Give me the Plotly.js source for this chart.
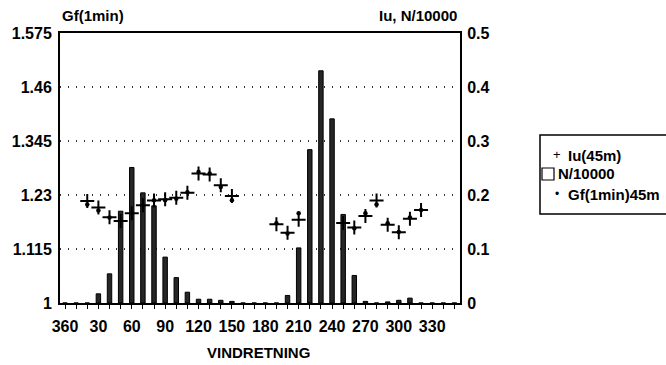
<!DOCTYPE html>
<html>
<head>
<meta charset="utf-8">
<script src="https://cdn.plot.ly/plotly-3.0.1.min.js"></script>
<style>html,body{margin:0;padding:0;background:#fff;}#chart{width:666px;height:365px;}</style>
</head>
<body>
<div id="chart"></div>
<script>
// Wind directions (categories)
var directions = ['360','10','20','30','40','50','60','70','80','90','100','110','120','130','140','150','160','170',
                  '180','190','200','210','220','230','240','250','260','270','280','290','300','310','320','330','340','350'];
// N/10000 (right axis)
var nValues = [0,0,0,0.017,0.054,0.170,0.251,0.204,0.180,0.085,0.047,0.020,0.007,0.007,0.005,0.003,0,0,
               0,0,0.014,0.102,0.284,0.430,0.341,0.164,0.051,0.003,0,0.002,0.005,0.009,0,0,0,0];
// Iu(45m) (right axis)
var iuValues = [null,null,0.189,0.177,0.159,0.152,0.166,0.181,0.190,0.192,0.195,0.204,0.240,0.238,0.218,0.198,null,null,
                null,0.146,0.130,0.154,null,null,null,0.148,0.140,0.161,0.190,0.145,0.131,0.156,0.172,null,null,null];
// Gf(1min)45m (left axis)
var gfValues = [null,null,1.210,1.197,1.182,1.178,1.191,1.206,1.219,1.219,1.222,1.236,1.279,1.276,1.247,1.219,null,null,
                null,1.170,1.148,1.191,null,null,null,1.172,1.159,1.191,1.210,1.170,1.151,1.182,1.198,null,null,null];
// Tick labels
var xTickText = directions.map(function(d, i){ return (i % 3 === 0) ? d : ''; });
var leftTicks = [1, 1.115, 1.23, 1.345, 1.46, 1.575];
var leftTickText = ['1','1.115','1.23','1.345','1.46','1.575'];
var rightTicks = [0, 0.1, 0.2, 0.3, 0.4, 0.5];
var rightTickText = ['0','0.1','0.2','0.3','0.4','0.5'];

var FONT = 'Liberation Sans, Arial, Helvetica, sans-serif';
var tickFont = {family: FONT, size: 16, color: '#000', weight: 'bold'};
var textFont = {family: FONT, size: 15, color: '#000', weight: 'bold'};

var traces = [
  {type: 'scatter', mode: 'markers', name: 'Gf(1min)45m', x: directions, y: gfValues, yaxis: 'y',
   marker: {symbol: 'circle', size: 4.5, color: '#000'}, showlegend: false, cliponaxis: false},
  {type: 'bar', name: 'N/10000', x: directions, y: nValues, yaxis: 'y2', width: 0.4,
   marker: {color: '#262626', line: {color: '#000', width: 1}}, showlegend: false},
  {type: 'scatter', mode: 'markers', name: 'Iu(45m)', x: directions, y: iuValues, yaxis: 'y2',
   marker: {symbol: 'cross-thin', size: 10, color: '#000', line: {color: '#000', width: 2}}, showlegend: false}
];

function px(x){ return (x - 60) / 400; }
function py(y){ return (303 - y) / 270; }

var layout = {
  width: 666, height: 365,
  margin: {l: 60, r: 206, t: 33, b: 62, pad: 0},
  paper_bgcolor: '#fff', plot_bgcolor: '#fff',
  showlegend: false,
  bargap: 0,
  xaxis: {
    type: 'category', categoryorder: 'array', categoryarray: directions,
    range: [-0.45, 35.5], tickmode: 'array', tickvals: directions, ticktext: xTickText,
    showline: true, linecolor: '#000', linewidth: 2, mirror: true,
    ticks: 'outside', ticklen: 4, tickwidth: 1, tickcolor: '#000',
    showgrid: false, zeroline: false, tickfont: tickFont, ticklabelstandoff: 4
  },
  yaxis: {
    range: [1, 1.575], tickmode: 'array', tickvals: leftTicks, ticktext: leftTickText,
    showline: true, linecolor: '#000', linewidth: 2, ticks: '',
    showgrid: true, gridcolor: '#333', gridwidth: 1.5, griddash: '1px,7px',
    zeroline: false, tickfont: tickFont, ticklabelstandoff: 3
  },
  yaxis2: {
    overlaying: 'y', side: 'right', range: [0, 0.5], tickmode: 'array',
    tickvals: rightTicks, ticktext: rightTickText,
    showline: true, linecolor: '#000', linewidth: 2, ticks: '',
    showgrid: false, zeroline: false, tickfont: tickFont, ticklabelstandoff: 2
  },
  annotations: [
    {xref: 'paper', yref: 'paper', x: px(60), y: py(15), xanchor: 'left', yanchor: 'middle',
     text: 'Gf(1min)', showarrow: false, font: textFont},
    {xref: 'paper', yref: 'paper', x: px(459), y: py(15), xanchor: 'right', yanchor: 'middle',
     text: 'Iu, N/10000', showarrow: false, font: textFont},
    {xref: 'paper', yref: 'paper', x: px(258), y: py(352), xanchor: 'center', yanchor: 'middle',
     text: 'VINDRETNING', showarrow: false, font: textFont},
    // legend entries
    {xref: 'paper', yref: 'paper', x: px(557), y: py(154), xanchor: 'center', yanchor: 'middle',
     text: '+', showarrow: false, font: {family: FONT, size: 13, color: '#000'}},
    {xref: 'paper', yref: 'paper', x: px(566), y: py(155), xanchor: 'left', yanchor: 'middle',
     text: 'Iu(45m)', showarrow: false, font: textFont},
    {xref: 'paper', yref: 'paper', x: px(556), y: py(174), xanchor: 'left', yanchor: 'middle',
     text: 'N/10000', showarrow: false, font: textFont},
    {xref: 'paper', yref: 'paper', x: px(557), y: py(194), xanchor: 'center', yanchor: 'middle',
     text: '•', showarrow: false, font: {family: FONT, size: 12, color: '#000'}},
    {xref: 'paper', yref: 'paper', x: px(566), y: py(194), xanchor: 'left', yanchor: 'middle',
     text: 'Gf(1min)45m', showarrow: false, font: textFont}
  ],
  shapes: [
    {type: 'rect', xref: 'paper', yref: 'paper', x0: px(540), x1: px(720), y0: py(214), y1: py(135),
     line: {color: '#000', width: 1.5}, fillcolor: 'rgba(0,0,0,0)'},
    {type: 'rect', xref: 'paper', yref: 'paper', x0: px(542), x1: px(554), y0: py(180), y1: py(168),
     line: {color: '#000', width: 1.2}, fillcolor: 'rgba(0,0,0,0)'}
  ]
};

Plotly.newPlot('chart', traces, layout, {displayModeBar: false, staticPlot: true});
</script>
</body>
</html>
